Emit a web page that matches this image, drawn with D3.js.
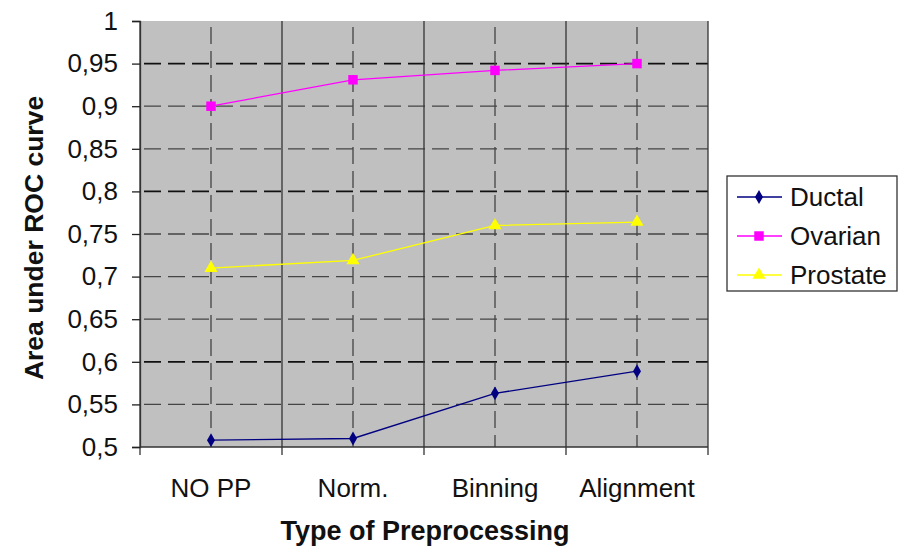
<!DOCTYPE html>
<html>
<head>
<meta charset="utf-8">
<script src="https://cdn.jsdelivr.net/npm/d3@7"></script>
<style>
  body { margin: 0; background: #fff; }
  text { font-family: "Liberation Sans", Arial, sans-serif; fill: #111; }
</style>
</head>
<body>
<div class="chart"></div>
<script>
let width = 899,
    height = 547;

// data
const categories = ["NO PP", "Norm.", "Binning", "Alignment"];
const ductal   = [0.508, 0.510, 0.563, 0.589];
const ovarian  = [0.900, 0.931, 0.942, 0.950];
const prostate = [0.710, 0.719, 0.760, 0.764];
const yTicks   = [0.5, 0.55, 0.6, 0.65, 0.7, 0.75, 0.8, 0.85, 0.9, 0.95, 1];
const yTickLabels = ["0,5", "0,55", "0,6", "0,65", "0,7", "0,75", "0,8", "0,85", "0,9", "0,95", "1"];

const series = [
  {name: "Ductal",   values: ductal,   color: "#000080", shape: d3.symbolDiamond,  size: 55},
  {name: "Ovarian",  values: ovarian,  color: "#ff00ff", shape: d3.symbolSquare,   size: 90},
  {name: "Prostate", values: prostate, color: "#ffff00", shape: d3.symbolTriangle, size: 75}
];

const margin = {left: 140, right: 191, top: 21, bottom: 100};

let svg = d3.select(".chart").append("svg")
  .attr("width", width)
  .attr("height", height);

let x = d3.scaleBand()
  .domain(categories)
  .range([margin.left, width - margin.right]);

let y = d3.scaleLinear()
  .domain([0.5, 1])
  .range([height - margin.bottom, margin.top]);

// plot background
svg.append("rect")
  .attr("x", x.range()[0])
  .attr("y", y(1))
  .attr("width", x.range()[1] - x.range()[0])
  .attr("height", y(0.5) - y(1))
  .attr("fill", "#c0c0c0");

// horizontal dashed grid
const darkLines = [0.6, 0.8, 0.95];
svg.append("g")
  .selectAll("line")
  .data(yTicks.filter(d => d > 0.5 && d < 1))
  .join("line")
  .attr("x1", x.range()[0])
  .attr("x2", x.range()[1])
  .attr("y1", d => y(d))
  .attr("y2", d => y(d))
  .attr("stroke", d => darkLines.includes(d) ? "#111" : "#444")
  .attr("stroke-width", d => darkLines.includes(d) ? 1.7 : 1.3)
  .attr("stroke-dasharray", "17,7")
  .attr("stroke-dashoffset", -4);

// vertical dashed lines at category centres
svg.append("g")
  .selectAll("line")
  .data(categories)
  .join("line")
  .attr("x1", d => x(d) + x.bandwidth() / 2)
  .attr("x2", d => x(d) + x.bandwidth() / 2)
  .attr("y1", y(1))
  .attr("y2", y(0.5))
  .attr("stroke", "#444")
  .attr("stroke-width", 1.3)
  .attr("stroke-dasharray", "17,7")
  .attr("stroke-dashoffset", -6);

// solid vertical lines at category boundaries
let bounds = categories.map(d => x(d)).concat([x.range()[1]]);
svg.append("g")
  .selectAll("line")
  .data(bounds)
  .join("line")
  .attr("x1", d => d)
  .attr("x2", d => d)
  .attr("y1", y(1))
  .attr("y2", y(0.5) + 8)
  .attr("stroke", "#333")
  .attr("stroke-width", 1.3);

// y axis
let yAxis = d3.axisLeft(y)
  .tickValues(yTicks)
  .tickFormat((d, i) => yTickLabels[i])
  .tickSize(8)
  .tickPadding(14);

svg.append("g")
  .attr("transform", `translate(${margin.left},0)`)
  .call(yAxis)
  .call(g => g.select(".domain").attr("stroke", "#333").attr("stroke-width", 1.3))
  .call(g => g.selectAll(".tick line").attr("stroke", "#222").attr("stroke-width", 1.3))
  .call(g => g.selectAll(".tick text")
    .attr("font-size", 26)
    .attr("font-family", "Liberation Sans, Arial, sans-serif")
    .attr("fill", "#111"));

// x axis line
svg.append("line")
  .attr("x1", x.range()[0])
  .attr("x2", x.range()[1])
  .attr("y1", y(0.5))
  .attr("y2", y(0.5))
  .attr("stroke", "#333")
  .attr("stroke-width", 1.3);

// x tick labels
svg.append("g")
  .selectAll("text")
  .data(categories)
  .join("text")
  .attr("x", d => x(d) + x.bandwidth() / 2)
  .attr("y", 497)
  .attr("text-anchor", "middle")
  .attr("font-size", 26)
  .text(d => d);

// series lines and markers
let line = d3.line()
  .x((d, i) => x(categories[i]) + x.bandwidth() / 2)
  .y(d => y(d));

series.forEach(s => {
  svg.append("path")
    .datum(s.values)
    .attr("d", line)
    .attr("fill", "none")
    .attr("stroke", s.color)
    .attr("stroke-width", 1.3);

  svg.append("g")
    .selectAll("path")
    .data(s.values)
    .join("path")
    .attr("transform", (d, i) => `translate(${x(categories[i]) + x.bandwidth() / 2},${y(d)})`)
    .attr("d", d3.symbol().type(s.shape).size(s.size))
    .attr("fill", s.color);
});

// axis titles
svg.append("text")
  .attr("x", 425)
  .attr("y", 540)
  .attr("text-anchor", "middle")
  .attr("font-size", 27)
  .attr("font-weight", "bold")
  .text("Type of Preprocessing");

svg.append("text")
  .attr("transform", "translate(43,238) rotate(-90)")
  .attr("text-anchor", "middle")
  .attr("font-size", 26.5)
  .attr("font-weight", "bold")
  .text("Area under ROC curve");

// legend
let legend = svg.append("g");
legend.append("rect")
  .attr("x", 727)
  .attr("y", 176)
  .attr("width", 170)
  .attr("height", 115)
  .attr("fill", "#fff")
  .attr("stroke", "#333")
  .attr("stroke-width", 1.3);

series.forEach((s, i) => {
  let ly = 197 + i * 39;
  legend.append("line")
    .attr("x1", 737).attr("x2", 782)
    .attr("y1", ly).attr("y2", ly)
    .attr("stroke", s.color)
    .attr("stroke-width", 1.3);
  legend.append("path")
    .attr("transform", `translate(759,${ly})`)
    .attr("d", d3.symbol().type(s.shape).size(s.size))
    .attr("fill", s.color);
  legend.append("text")
    .attr("x", 790)
    .attr("y", ly + 9)
    .attr("font-size", 26)
    .text(s.name);
});
</script>
</body>
</html>
